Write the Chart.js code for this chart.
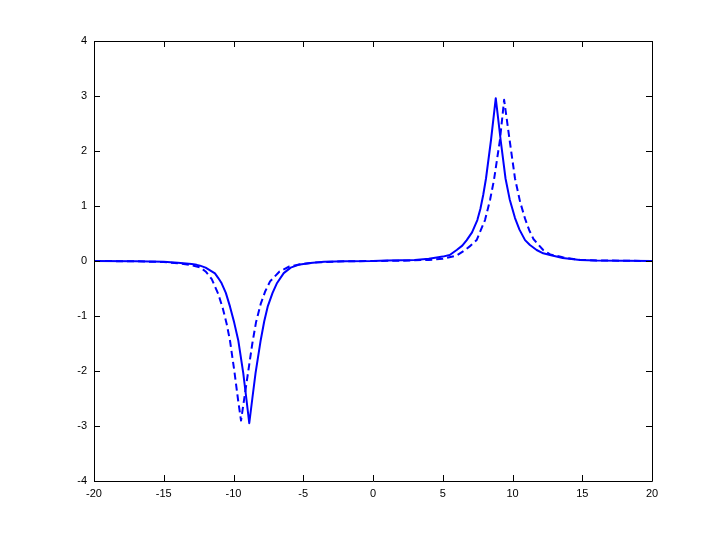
<!DOCTYPE html>
<html>
<head>
<meta charset="utf-8">
<script src="https://cdn.jsdelivr.net/npm/chart.js@4/dist/chart.umd.min.js"></script>
<style>
  html, body { margin: 0; padding: 0; background: #ffffff; }
  canvas { display: block; }
</style>
</head>
<body>
<canvas id="c" width="720" height="540"></canvas>
<script>
// Solid curve
const solidX = [-20, -17, -15, -14, -13, -12.64, -12.4, -12, -11.68, -11.33, -11.09, -10.85, -10.55, -10.25, -9.95, -9.66, -9.3, -9.08, -8.87, -8.65, -8.42, -8.05, -7.8, -7.55, -7.2, -6.9, -6.4, -5.9, -5.35, -4.5, -3.5, -2, 0, 1, 3, 4, 4.57, 5, 5.5, 6, 6.4, 6.72, 7.1, 7.48, 7.7, 7.9, 8.1, 8.46, 8.8, 9.15, 9.5, 9.8, 10.18, 10.5, 10.9, 11.25, 11.73, 12.2, 12.69, 13.6, 14.84, 16, 18, 20];
const solidY = [0, -0.005, -0.015, -0.03, -0.055, -0.07, -0.085, -0.12, -0.17, -0.224, -0.31, -0.406, -0.58, -0.83, -1.12, -1.44, -2.04, -2.5, -2.95, -2.5, -2.04, -1.44, -1.1, -0.83, -0.58, -0.41, -0.22, -0.12, -0.07, -0.035, -0.015, -0.005, 0.0, 0.01, 0.02, 0.04, 0.065, 0.08, 0.11, 0.2, 0.28, 0.38, 0.52, 0.745, 0.95, 1.2, 1.5, 2.2, 2.96, 2.2, 1.5, 1.12, 0.78, 0.57, 0.38, 0.29, 0.2, 0.14, 0.11, 0.055, 0.02, 0.01, 0.005, 0];

// Dashed curve
const dashX = [-20, -17, -15, -14, -13, -12.64, -12.4, -12.0, -11.56, -11.09, -10.77, -10.5, -10.25, -9.94, -9.66, -9.46, -9.2, -8.94, -8.65, -8.39, -8.05, -7.74, -7.38, -6.7, -6.0, -5.0, -4, -2, 0, 2, 4, 5, 6, 6.6, 7.0, 7.43, 8.03, 8.39, 8.67, 9.1, 9.4, 9.82, 10.18, 10.54, 10.9, 11.2, 11.5, 12.2, 12.7, 13.6, 14.84, 16, 18, 20];
const dashY = [0, -0.005, -0.02, -0.04, -0.075, -0.1, -0.115, -0.19, -0.33, -0.6, -0.86, -1.13, -1.45, -2.0, -2.55, -2.9, -2.45, -2.0, -1.5, -1.12, -0.78, -0.56, -0.37, -0.19, -0.1, -0.05, -0.025, -0.005, 0.0, 0.005, 0.02, 0.04, 0.1, 0.2, 0.28, 0.38, 0.745, 1.11, 1.47, 2.2, 2.93, 2.15, 1.5, 1.08, 0.77, 0.56, 0.4, 0.2, 0.12, 0.067, 0.02, 0.01, 0.005, 0];

// Axis ticks
const xTicks = [-20, -15, -10, -5, 0, 5, 10, 15, 20];
const yTicks = [-4, -3, -2, -1, 0, 1, 2, 3, 4];

const toPts = (xs, ys) => xs.map((x, i) => ({ x: x, y: ys[i] }));

const FONT = { family: '"Liberation Sans", Arial, Helvetica, sans-serif', size: 11 };

const framePlugin = {
  id: 'frame',
  afterDraw(chart) {
    const { ctx, chartArea: a, scales } = chart;
    const xs = scales.x, ys = scales.y;
    const L = 6;
    ctx.save();
    ctx.strokeStyle = '#000000';
    ctx.lineWidth = 1;
    ctx.beginPath();
    ctx.rect(Math.round(a.left) + 0.5, Math.round(a.top) + 0.5,
             Math.round(a.right - a.left), Math.round(a.bottom - a.top));
    ctx.stroke();
    ctx.beginPath();
    xTicks.forEach(v => {
      const px = Math.round(xs.getPixelForValue(v)) + 0.5;
      ctx.moveTo(px, a.bottom); ctx.lineTo(px, a.bottom - L);
      ctx.moveTo(px, a.top); ctx.lineTo(px, a.top + L);
    });
    yTicks.forEach(v => {
      const py = Math.round(ys.getPixelForValue(v)) + 0.5;
      ctx.moveTo(a.left, py); ctx.lineTo(a.left + L, py);
      ctx.moveTo(a.right, py); ctx.lineTo(a.right - L, py);
    });
    ctx.stroke();
    ctx.restore();
  }
};

new Chart(document.getElementById('c'), {
  type: 'line',
  data: {
    datasets: [
      {
        data: toPts(solidX, solidY),
        borderColor: '#0000ff',
        borderWidth: 2,
        borderJoinStyle: 'round',
        pointRadius: 0,
        tension: 0,
        fill: false
      },
      {
        data: toPts(dashX, dashY),
        borderColor: '#0000ff',
        borderWidth: 2,
        borderDash: [7, 4],
        borderJoinStyle: 'round',
        pointRadius: 0,
        tension: 0,
        fill: false
      }
    ]
  },
  options: {
    responsive: false,
    animation: false,
    devicePixelRatio: 1,
    layout: { padding: { top: 41, right: 68, left: 0, bottom: 0 } },
    plugins: { legend: { display: false }, tooltip: { enabled: false } },
    scales: {
      x: {
        type: 'linear',
        min: -20, max: 20,
        afterFit: s => { s.height = 59; },
        afterBuildTicks: s => { s.ticks = xTicks.map(v => ({ value: v })); },
        grid: { display: false, drawTicks: false },
        border: { display: false },
        ticks: { color: '#000', font: FONT, padding: 6, autoSkip: false, maxRotation: 0 }
      },
      y: {
        type: 'linear',
        min: -4, max: 4,
        afterFit: s => { s.width = 94; },
        afterBuildTicks: s => { s.ticks = yTicks.map(v => ({ value: v })); },
        grid: { display: false, drawTicks: false },
        border: { display: false },
        ticks: { color: '#000', font: FONT, padding: 7, autoSkip: false }
      }
    }
  },
  plugins: [framePlugin]
});
</script>
</body>
</html>
